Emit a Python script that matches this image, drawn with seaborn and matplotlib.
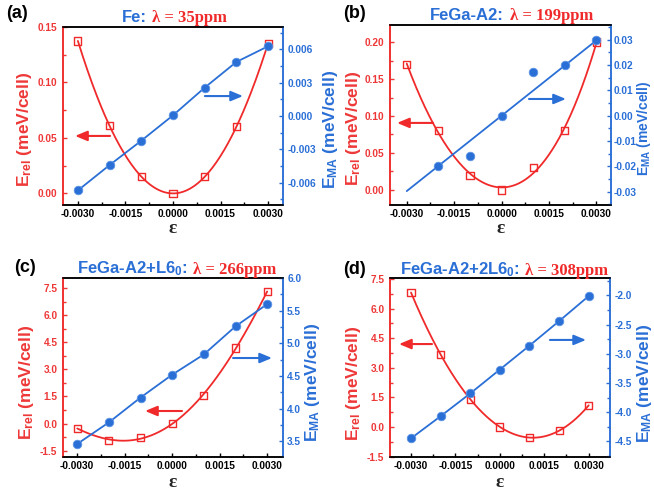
import numpy as np
import pandas as pd
import matplotlib
matplotlib.use("Agg")
import matplotlib.pyplot as plt
import seaborn as sns
from matplotlib.offsetbox import TextArea, HPacker, AnchoredOffsetbox
from matplotlib.ticker import MultipleLocator, FormatStrFormatter

# ---------------- data ----------------
strain = [-0.003, -0.002, -0.001, 0.0, 0.001, 0.002, 0.003]

erel_a = [0.1374, 0.0609, 0.0150, 0.0, 0.0150, 0.0600, 0.1353]
ema_a = [-0.00669, -0.00441, -0.00222, 0.00006, 0.00255, 0.00486, 0.00627]

erel_b = [0.170, 0.080, 0.020, 0.0, 0.030, 0.080, 0.200]
strain_ema_b = [-0.002, -0.001, 0.0, 0.001, 0.002, 0.003]
ema_b = [-0.0199, -0.0160, 0.0, 0.0172, 0.0199, 0.0297]
fit_use_b = [True, False, True, False, True, True]

erel_c = [-0.26, -0.92, -0.79, 0.0, 1.57, 4.18, 7.29]
ema_c = [3.46, 3.79, 4.17, 4.52, 4.83, 5.26, 5.60]

erel_d = [6.81, 3.68, 1.40, 0.0, -0.52, -0.20, 1.10]
ema_d = [-4.45, -4.07, -3.68, -3.27, -2.86, -2.44, -2.01]

materials = ["Fe:", "FeGa-A2:", r"FeGa-A2+L6$_{\mathbf{0}}$:", r"FeGa-A2+2L6$_{\mathbf{0}}$:"]
lambdas = ["λ = 35ppm", "λ = 199ppm", "λ = 266ppm", "λ = 308ppm"]
panel_tags = ["(a)", "(b)", "(c)", "(d)"]

# ---------------- style ----------------
sns.set_style("ticks")
plt.rcParams["font.family"] = ["Liberation Sans", "DejaVu Sans"]
plt.rcParams["font.weight"] = "bold"
plt.rcParams["axes.unicode_minus"] = False
plt.rcParams["mathtext.fontset"] = "custom"
plt.rcParams["mathtext.rm"] = "Liberation Sans:bold"
plt.rcParams["mathtext.bf"] = "Liberation Sans:bold"
plt.rcParams["mathtext.it"] = "Liberation Sans:bold"

RED = "#F02A2A"
RED_T = "#EE3838"
BLUE = "#2A6FD6"

W, H = 654, 491
fig = plt.figure(figsize=(W / 100, H / 100), dpi=100)


def px_axes(x0, x1, ytop, ybot):
    return fig.add_axes([x0 / W, 1 - ybot / H, (x1 - x0) / W, (ybot - ytop) / H])


panels = [
    dict(box=(63, 283, 27, 205), erel=erel_a, ex=strain, ema=ema_a, fit=None,
         xlim=(-0.00347, 0.00347), ylim1=(-0.0105, 0.150), ylim2=(-0.008, 0.008),
         maj1=0.05, min1=0.025, fmt1="%.2f", maj2=0.003, min2=0.0015, fmt2="%.3f",
         ylc1=(-0.173, 0.427), ylc2=(1.214, 0.427), yl2fs=12.5, pad2=3, title=(0.505, 1.05),
         arr_r=((0.214, 0.388), (0.055, 0.388)), arr_b=((0.645, 0.612), (0.818, 0.612)),
         tag=(17, 14), xl=-0.13),
    dict(box=(390, 611, 25, 205), erel=erel_b, ex=strain_ema_b, ema=ema_b, fit=fit_use_b,
         xlim=(-0.00353, 0.00346), ylim1=(-0.0203, 0.223), ylim2=(-0.0353, 0.0358),
         maj1=0.05, min1=0.025, fmt1="%.2f", maj2=0.01, min2=0.005, fmt2="%.2f",
         ylc1=(-0.163, 0.428), ylc2=(1.150, 0.428), yl2fs=10, pad2=2, title=(0.55, 1.05),
         arr_r=((0.195, 0.456), (0.032, 0.456)), arr_b=((0.629, 0.589), (0.796, 0.589)),
         tag=(355, 14), xl=-0.13),
    dict(box=(63, 283, 278, 457), erel=erel_c, ex=strain, ema=ema_c, fit=None,
         xlim=(-0.00345, 0.00350), ylim1=(-1.85, 8.05), ylim2=(3.26, 6.0),
         maj1=1.5, min1=0.75, fmt1="%.1f", maj2=0.5, min2=0.25, fmt2="%.1f",
         ylc1=(-0.164, 0.419), ylc2=(1.136, 0.419), yl2fs=12.5, pad2=3, title=(0.518, 1.05),
         arr_r=((0.541, 0.257), (0.373, 0.257)), arr_b=((0.773, 0.553), (0.95, 0.553)),
         tag=(25, 268), xl=-0.145),
    dict(box=(390, 610, 278, 457), erel=erel_d, ex=strain, ema=ema_d, fit=None,
         xlim=(-0.00371, 0.00372), ylim1=(-1.52, 7.55), ylim2=(-4.77, -1.70),
         maj1=1.5, min1=0.75, fmt1="%.1f", maj2=0.5, min2=0.25, fmt2="%.1f",
         ylc1=(-0.168, 0.413), ylc2=(1.155, 0.413), yl2fs=12.5, pad2=3, title=(0.518, 1.045),
         arr_r=((0.191, 0.631), (0.041, 0.631)), arr_b=((0.727, 0.654), (0.891, 0.654)),
         tag=(355, 269), xl=-0.145),
]

xs_dense = np.linspace(min(strain), max(strain), 200)

for i, p in enumerate(panels):
    ax = px_axes(*p["box"])
    ax2 = ax.twinx()

    # red: relative energy, smooth polynomial fit + open squares
    coef = np.polyfit(strain, p["erel"], 4)
    fit_df = pd.DataFrame({"x": xs_dense, "y": np.polyval(coef, xs_dense)})
    sns.lineplot(data=fit_df, x="x", y="y", ax=ax, color=RED, lw=1.3)
    sns.scatterplot(x=strain, y=p["erel"], ax=ax, marker="s", s=26,
                    facecolors="none", edgecolor=RED, linewidth=1.0, zorder=5)

    # blue: EMA, linear fit (or connecting line) + filled circles
    ex = np.array(p["ex"])
    ey = np.array(p["ema"])
    if p["fit"] is not None:
        m = np.array(p["fit"])
        c1 = np.polyfit(ex[m], ey[m], 1)
        lx = np.array([min(strain), max(strain)])
        sns.lineplot(x=lx, y=np.polyval(c1, lx), ax=ax2, color=BLUE, lw=1.3)
    else:
        sns.lineplot(x=ex, y=ey, ax=ax2, color=BLUE, lw=1.3)
    sns.scatterplot(x=ex, y=ey, ax=ax2, marker="o", s=38, color=BLUE,
                    edgecolor="#5C93E6", linewidth=0.6, zorder=5)

    ax.set_xlim(*p["xlim"])
    ax.set_ylim(*p["ylim1"])
    ax2.set_ylim(*p["ylim2"])

    ax.xaxis.set_major_locator(MultipleLocator(0.0015))
    ax.xaxis.set_minor_locator(MultipleLocator(0.00075))
    ax.xaxis.set_major_formatter(FormatStrFormatter("%.4f"))
    ax.yaxis.set_major_locator(MultipleLocator(p["maj1"]))
    ax.yaxis.set_minor_locator(MultipleLocator(p["min1"]))
    ax.yaxis.set_major_formatter(FormatStrFormatter(p["fmt1"]))
    ax2.yaxis.set_major_locator(MultipleLocator(p["maj2"]))
    ax2.yaxis.set_minor_locator(MultipleLocator(p["min2"]))
    ax2.yaxis.set_major_formatter(FormatStrFormatter(p["fmt2"]))

    ax.tick_params(axis="x", which="major", direction="in", length=3, width=1,
                   colors="black", labelsize=7.3, pad=3)
    ax.tick_params(axis="x", which="minor", direction="in", length=2, width=1, colors="black")
    ax.tick_params(axis="y", which="major", direction="in", length=3, width=1,
                   colors=RED_T, labelsize=7.3, pad=4)
    ax.tick_params(axis="y", which="minor", direction="in", length=2, width=1, colors=RED_T)
    ax2.tick_params(axis="y", which="major", direction="in", length=3, width=1,
                    colors=BLUE, labelsize=7.3, pad=p["pad2"])
    ax2.tick_params(axis="y", which="minor", direction="in", length=2, width=1, colors=BLUE)
    for lab in ax.get_xticklabels() + ax.get_yticklabels() + ax2.get_yticklabels():
        lab.set_fontweight("bold")

    for a in (ax, ax2):
        a.spines["left"].set_color(RED)
        a.spines["right"].set_color(BLUE)
        a.spines["top"].set_color("black")
        a.spines["bottom"].set_color("black")
        for s in a.spines.values():
            s.set_linewidth(1.1)
            s.set_visible(True)

    ax.set_xlabel("ε", fontfamily=["Liberation Serif"], fontweight="bold", fontsize=14)
    ax.xaxis.label.set_va("center")
    ax.xaxis.set_label_coords(0.5, p["xl"])
    ax.set_ylabel(r"E$_{\mathbf{rel}}$ (meV/cell)", color=RED_T, fontsize=12.5, fontweight="bold")
    ax.yaxis.label.set_va("center")
    ax.yaxis.set_label_coords(*p["ylc1"])
    ax2.set_ylabel(r"E$_{\mathbf{MA}}$ (meV/cell)", color=BLUE, fontsize=p["yl2fs"],
                   fontweight="bold")
    ax2.yaxis.label.set_va("center")
    ax2.yaxis.set_label_coords(*p["ylc2"])

    # arrows pointing to the relevant axis
    ap = dict(arrowstyle="-|>,head_length=0.6,head_width=0.25", lw=1.5, mutation_scale=12,
              shrinkA=0, shrinkB=0)
    ax2.annotate("", xy=p["arr_r"][1], xytext=p["arr_r"][0], xycoords="axes fraction",
                 arrowprops=dict(color=RED, **ap))
    ax2.annotate("", xy=p["arr_b"][1], xytext=p["arr_b"][0], xycoords="axes fraction",
                 arrowprops=dict(color=BLUE, **ap))

    # two-font title
    t1 = TextArea(materials[i], textprops=dict(color=BLUE, fontsize=12, fontweight="bold",
                                               family=["Liberation Sans"]))
    t2 = TextArea(lambdas[i], textprops=dict(color=RED, fontsize=12, fontweight="bold",
                                             family=["Liberation Serif"]))
    box = HPacker(children=[t1, t2], align="baseline", pad=0, sep=4)
    ab = AnchoredOffsetbox(loc="center", child=box, pad=0, borderpad=0, frameon=False,
                           bbox_to_anchor=p["title"], bbox_transform=ax.transAxes)
    fig.add_artist(ab)

    fig.text(p["tag"][0] / W, 1 - p["tag"][1] / H, panel_tags[i], ha="center", va="center",
             fontsize=13, fontweight="bold", color="black")

fig.savefig("out.png", dpi=100)
